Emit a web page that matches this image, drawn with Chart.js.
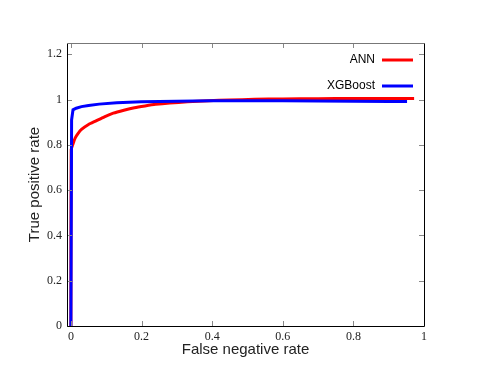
<!DOCTYPE html>
<html>
<head>
<meta charset="utf-8">
<script src="https://cdn.jsdelivr.net/npm/chart.js@4.4.1/dist/chart.umd.min.js"></script>
<style>
  body { margin: 0; background: #fff; }
  #wrap { width: 480px; height: 382px; }
</style>
</head>
<body>
<div id="wrap"><canvas id="rocChart" width="480" height="382"></canvas></div>
<script>
// values
const seriesLabels = ['ANN', 'XGBoost'];
const annFnr = [0, 0.001, 0.005, 0.012, 0.02, 0.03, 0.05, 0.07, 0.095, 0.12, 0.15, 0.18, 0.21, 0.24, 0.28, 0.33, 0.39, 0.45, 0.52, 0.6, 0.7, 0.8, 0.9, 0.972];
const annTpr = [0, 0.78, 0.80, 0.83, 0.85, 0.868, 0.89, 0.905, 0.924, 0.94, 0.953, 0.964, 0.972, 0.979, 0.985, 0.99, 0.995, 0.998, 1.001, 1.003, 1.004, 1.005, 1.005, 1.005];
const xgbFnr = [0, 0.002, 0.006, 0.015, 0.03, 0.05, 0.08, 0.13, 0.2, 0.3, 0.4, 0.5, 0.6, 0.7, 0.8, 0.9, 0.952];
const xgbTpr = [0, 0.91, 0.955, 0.962, 0.969, 0.974, 0.98, 0.986, 0.99, 0.993, 0.995, 0.995, 0.995, 0.994, 0.993, 0.992, 0.992];
const xTicks = [0, 0.2, 0.4, 0.6, 0.8, 1];
const yTicks = [0, 0.2, 0.4, 0.6, 0.8, 1, 1.2];
const seriesColors = ['#ff0000', '#0000ff'];

function toPoints(xs, ys) {
  return xs.map((x, i) => ({x: x, y: ys[i]}));
}
function tickText(v) {
  return String(Number(v.toFixed(2)));
}

// gnuplot-like frame with inward ticks on all four sides, plus the legend
const framePlugin = {
  id: 'frame',
  afterDatasetsDraw(chart) {
    const ctx = chart.ctx;
    const a = chart.chartArea;
    const xs = chart.scales.x;
    const ys = chart.scales.y;
    ctx.save();
    ctx.strokeStyle = '#888';
    ctx.lineWidth = 1;
    ctx.beginPath();
    for (const v of xTicks) {
      const px = Math.round(xs.getPixelForValue(v)) + 0.5;
      ctx.moveTo(px, a.bottom); ctx.lineTo(px, a.bottom - 5);
      ctx.moveTo(px, a.top); ctx.lineTo(px, a.top + 5);
    }
    for (const v of yTicks) {
      const py = Math.round(ys.getPixelForValue(v)) + 0.5;
      ctx.moveTo(a.left, py); ctx.lineTo(a.left + 5, py);
      ctx.moveTo(a.right, py); ctx.lineTo(a.right - 5, py);
    }
    ctx.stroke();
    ctx.strokeStyle = '#000';
    ctx.beginPath();
    ctx.moveTo(Math.round(a.left) + 0.5, Math.round(a.top) + 0.5);
    ctx.lineTo(Math.round(a.left) + 0.5, Math.round(a.bottom) + 0.5);
    ctx.lineTo(Math.round(a.right) + 0.5, Math.round(a.bottom) + 0.5);
    ctx.lineTo(Math.round(a.right) + 0.5, Math.round(a.top) + 0.5);
    ctx.stroke();
    ctx.strokeStyle = '#777';
    ctx.beginPath();
    ctx.moveTo(Math.round(a.left) + 0.5, Math.round(a.top) + 0.5);
    ctx.lineTo(Math.round(a.right) + 0.5, Math.round(a.top) + 0.5);
    ctx.stroke();

    // legend: text right aligned, line sample to its right
    ctx.font = '12px "Liberation Sans", Arial, sans-serif';
    ctx.textAlign = 'right';
    ctx.textBaseline = 'middle';
    const rows = [60, 86];
    seriesLabels.forEach((lab, i) => {
      ctx.fillStyle = '#000';
      ctx.fillText(lab, a.right - 49, rows[i]);
      ctx.strokeStyle = seriesColors[i];
      ctx.lineWidth = 3;
      ctx.beginPath();
      ctx.moveTo(a.right - 42, rows[i]);
      ctx.lineTo(a.right - 11, rows[i]);
      ctx.stroke();
    });
    ctx.restore();
  }
};

new Chart(document.getElementById('rocChart'), {
  type: 'line',
  data: {
    datasets: [
      {
        label: seriesLabels[0],
        data: toPoints(annFnr, annTpr),
        borderColor: seriesColors[0],
        borderWidth: 3,
        pointRadius: 0,
        tension: 0.2,
        fill: false,
        order: 1
      },
      {
        label: seriesLabels[1],
        data: toPoints(xgbFnr, xgbTpr),
        borderColor: seriesColors[1],
        borderWidth: 3,
        pointRadius: 0,
        tension: 0,
        fill: false,
        order: 0
      }
    ]
  },
  options: {
    responsive: false,
    animation: false,
    layout: { padding: { left: 0, top: 43, right: 56, bottom: 0 } },
    plugins: { legend: { display: false }, tooltip: { enabled: false } },
    scales: {
      x: {
        type: 'linear',
        min: -0.011,
        max: 1,
        afterBuildTicks: (s) => { s.ticks = xTicks.map(v => ({value: v})); },
        afterFit: (s) => { s.height = 56; },
        grid: { display: false, drawTicks: false },
        border: { display: false },
        ticks: {
          padding: 4,
          color: '#222',
          font: { family: '"Liberation Serif", "Times New Roman", serif', size: 12 },
          callback: (v) => tickText(v)
        },
        title: {
          display: true,
          text: 'False negative rate',
          color: '#222',
          font: { family: '"Liberation Sans", Arial, sans-serif', size: 15 },
          padding: { top: 0, bottom: 23 }
        }
      },
      y: {
        type: 'linear',
        min: 0,
        max: 1.25,
        afterBuildTicks: (s) => { s.ticks = yTicks.map(v => ({value: v})); },
        afterFit: (s) => { s.width = 67; },
        grid: { display: false, drawTicks: false },
        border: { display: false },
        ticks: {
          padding: 5,
          color: '#222',
          font: { family: '"Liberation Serif", "Times New Roman", serif', size: 12 },
          callback: (v) => tickText(v)
        },
        title: {
          display: true,
          text: 'True positive rate',
          color: '#222',
          font: { family: '"Liberation Sans", Arial, sans-serif', size: 15 },
          padding: { top: 26, bottom: 0 }
        }
      }
    }
  },
  plugins: [framePlugin]
});
</script>
</body>
</html>
